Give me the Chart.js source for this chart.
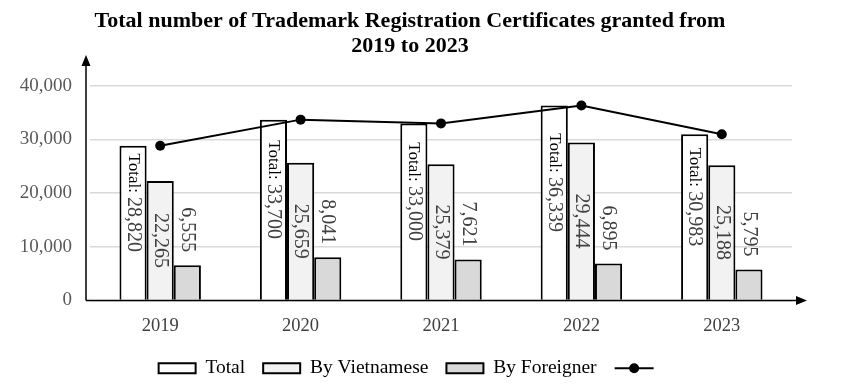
<!DOCTYPE html>
<html>
<head>
<meta charset="utf-8">
<script src="https://cdn.jsdelivr.net/npm/chart.js@4.4.0/dist/chart.umd.min.js"></script>
<style>
  html, body { margin: 0; padding: 0; background: #ffffff; }
  #wrap { width: 854px; height: 391px; }
</style>
</head>
<body>
<div id="wrap"><canvas id="c" width="854" height="391"></canvas></div>
<script>
const categories = ['2019', '2020', '2021', '2022', '2023'];
const totalValues = [28820, 33700, 33000, 36339, 30983];
const vietnameseValues = [22265, 25659, 25379, 29444, 25188];
const foreignerValues = [6555, 8041, 7621, 6895, 5795];
const yTickValues = [0, 10000, 20000, 30000, 40000];
const seriesNames = ['Total', 'By Vietnamese', 'By Foreigner', ''];

const SERIF = "'Liberation Serif', 'Times New Roman', serif";
const fmt = v => v.toLocaleString('en-US');

const labelPlugin = {
  id: 'barLabels',
  afterDatasetsDraw(chart) {
    const ctx = chart.ctx;
    ctx.save();
    [0, 1, 2].forEach(di => {
      const meta = chart.getDatasetMeta(di);
      meta.data.forEach((bar, i) => {
        const props = bar.getProps(['x', 'y', 'base'], true);
        const val = chart.data.datasets[di].data[i];
        ctx.save();
        ctx.translate(props.x, 0);
        ctx.rotate(Math.PI / 2);
        ctx.textBaseline = 'middle';
        if (di === 0) {
          const pre = 'Total: ';
          const num = fmt(val);
          ctx.font = '17px ' + SERIF;
          const w1 = ctx.measureText(pre).width;
          ctx.font = '20px ' + SERIF;
          const w2 = ctx.measureText(num).width;
          const mid = (props.y + props.base) / 2 - 20;
          const start = mid - (w1 + w2) / 2;
          ctx.textAlign = 'left';
          ctx.font = '17px ' + SERIF;
          ctx.fillStyle = '#000000';
          ctx.fillText(pre, start, 0);
          ctx.font = '20px ' + SERIF;
          ctx.fillStyle = '#404040';
          ctx.fillText(num, start + w1, 0);
        } else if (di === 1) {
          ctx.font = '20px ' + SERIF;
          ctx.fillStyle = '#404040';
          ctx.textAlign = 'center';
          ctx.fillText(fmt(val), (props.y + props.base) / 2, 0);
        } else {
          ctx.font = '20px ' + SERIF;
          ctx.fillStyle = '#404040';
          ctx.textAlign = 'right';
          ctx.fillText(fmt(val), props.y - 13, 0);
        }
        ctx.restore();
      });
    });
    ctx.restore();
  }
};

const axisPlugin = {
  id: 'axisArrows',
  afterDraw(chart) {
    const ctx = chart.ctx;
    const a = chart.chartArea;
    const x0 = a.left - 4;
    const y0 = a.bottom;
    ctx.save();
    ctx.strokeStyle = '#000';
    ctx.fillStyle = '#000';
    ctx.lineWidth = 1.5;
    ctx.beginPath();
    ctx.moveTo(x0, y0);
    ctx.lineTo(x0, a.top + 6);
    ctx.moveTo(x0, y0);
    ctx.lineTo(a.right + 6, y0);
    ctx.stroke();
    ctx.beginPath();
    ctx.moveTo(x0, a.top - 4);
    ctx.lineTo(x0 - 4.5, a.top + 7);
    ctx.lineTo(x0 + 4.5, a.top + 7);
    ctx.closePath();
    ctx.fill();
    const tip = a.right + 15;
    ctx.beginPath();
    ctx.moveTo(tip, y0);
    ctx.lineTo(tip - 11, y0 - 4.5);
    ctx.lineTo(tip - 11, y0 + 4.5);
    ctx.closePath();
    ctx.fill();
    ctx.restore();
  }
};

const legendLinePlugin = {
  id: 'legendLine',
  afterDraw(chart) {
    const lg = chart.legend;
    if (!lg || !lg.legendHitBoxes || lg.legendHitBoxes.length < 4) return;
    const hb = lg.legendHitBoxes[3];
    const ctx = chart.ctx;
    const cy = hb.top + hb.height / 2;
    const bw = lg.options.labels.boxWidth;
    ctx.save();
    ctx.strokeStyle = '#000';
    ctx.fillStyle = '#000';
    ctx.lineWidth = 2;
    ctx.beginPath();
    ctx.moveTo(hb.left, cy);
    ctx.lineTo(hb.left + bw + 2, cy);
    ctx.stroke();
    ctx.beginPath();
    ctx.arc(hb.left + bw / 2 + 1, cy, 5, 0, Math.PI * 2);
    ctx.fill();
    ctx.restore();
  }
};

new Chart(document.getElementById('c'), {
  type: 'bar',
  data: {
    labels: categories,
    datasets: [
      { label: seriesNames[0], data: totalValues, backgroundColor: '#ffffff', borderColor: '#000', borderWidth: 2, order: 1 },
      { label: seriesNames[1], data: vietnameseValues, backgroundColor: '#f2f2f2', borderColor: '#000', borderWidth: 2, order: 1 },
      { label: seriesNames[2], data: foreignerValues, backgroundColor: '#d9d9d9', borderColor: '#000', borderWidth: 2, order: 1 },
      { type: 'line', label: seriesNames[3], data: totalValues, borderColor: '#000', backgroundColor: '#000',
        borderWidth: 2, pointRadius: 5, pointBackgroundColor: '#000', pointBorderWidth: 0, order: -1, tension: 0 }
    ]
  },
  options: {
    responsive: false,
    animation: false,
    devicePixelRatio: 1,
    layout: { padding: { left: 0, right: 34, top: 0, bottom: 3 } },
    datasets: { bar: { categoryPercentage: 0.58, barPercentage: 1 } },
    plugins: {
      tooltip: { enabled: false },
      title: {
        display: true,
        text: ['Total number of Trademark Registration Certificates granted from', '2019 to 2023'],
        color: '#000',
        font: { family: SERIF, size: 22, weight: 'bold', lineHeight: 1.136 },
        padding: { top: 9, bottom: 0 }
      },
      legend: {
        position: 'bottom',
        labels: {
          boxWidth: 37,
          boxHeight: 10,
          padding: 18,
          color: '#404040',
          font: { family: SERIF, size: 19.5 },
          generateLabels(chart) {
            return chart.data.datasets.map((ds, i) => ({
              text: ds.label,
              fillStyle: i < 3 ? ds.backgroundColor : 'rgba(0,0,0,0)',
              strokeStyle: i < 3 ? '#000' : 'rgba(0,0,0,0)',
              lineWidth: i < 3 ? 2 : 0,
              hidden: false,
              datasetIndex: i
            }));
          }
        }
      }
    },
    scales: {
      x: {
        afterFit(scale) { scale.height = 40; },
        grid: { display: false, drawTicks: false },
        border: { display: false },
        ticks: { color: '#404040', font: { family: SERIF, size: 18.5 }, padding: 15 }
      },
      y: {
        min: 0,
        max: 45000,
        afterBuildTicks(scale) {
          scale.ticks = yTickValues.map(v => ({ value: v }));
        },
        afterFit(scale) { scale.width = 90; },
        grid: { color: '#d9d9d9', lineWidth: 1.5, drawTicks: false },
        border: { display: false },
        ticks: {
          color: '#595959',
          font: { family: SERIF, size: 19 },
          padding: 18,
          callback: v => fmt(v)
        }
      },
      yR: {
        position: 'right',
        display: true,
        afterFit(scale) { scale.width = 28; },
        grid: { display: false, drawTicks: false },
        border: { display: false },
        ticks: { display: false }
      }
    }
  },
  plugins: [labelPlugin, axisPlugin, legendLinePlugin]
});
</script>
</body>
</html>
